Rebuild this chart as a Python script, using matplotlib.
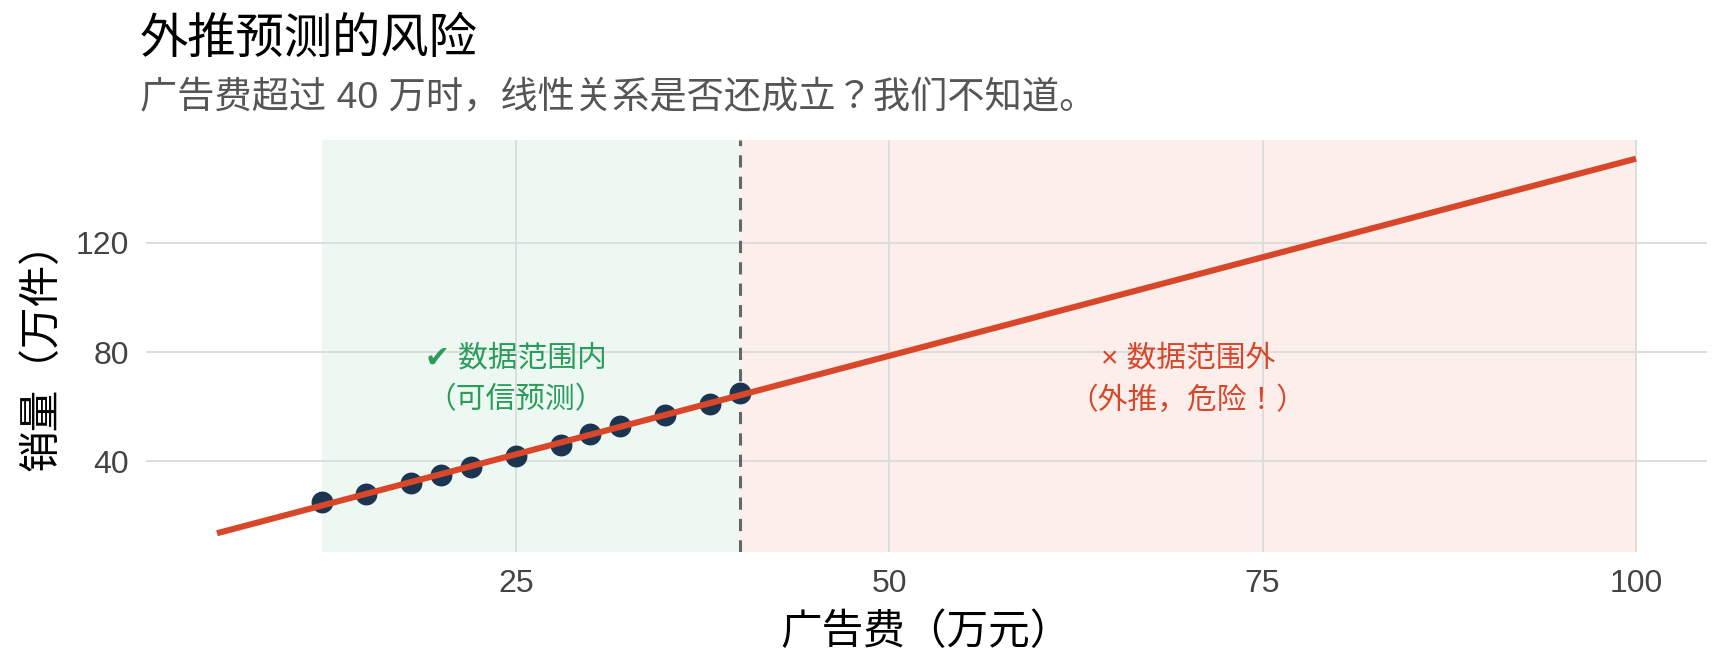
import numpy as np
import matplotlib
matplotlib.use('Agg')
import matplotlib.pyplot as plt

plt.rcParams['font.family'] = ['Liberation Sans', 'Noto Sans CJK JP', 'DejaVu Sans']

# observed data (万元 -> 万件)
ad_spend = [12, 15, 18, 20, 22, 25, 28, 30, 32, 35, 38, 40]
sales = [25, 28, 32, 35, 38, 42, 46, 50, 53, 57, 61, 65]

data_min = 12
data_max = 40
line_from = 5
line_to = 100

x_ticks = [25, 50, 75, 100]
y_ticks = [40, 80, 120]

title = '外推预测的风险'
subtitle = '广告费超过 40 万时，线性关系是否还成立？我们不知道。'
inside_label = '✔ 数据范围内\n（可信预测）'
outside_label = '× 数据范围外\n（外推，危险！）'

green = '#2a9d5c'
red = '#d9472b'
navy = '#1b3550'

slope, intercept = np.polyfit(ad_spend, sales, 1)
line_x = np.array([line_from, line_to])
line_y = intercept + slope * line_x

fig = plt.figure(figsize=(8.64, 3.36), dpi=200)
ax = fig.add_axes([0.0845, 0.1786, 0.9033, 0.6131])

ax.axvspan(data_min, data_max, color='#27ae60', alpha=0.08, lw=0, zorder=0)
ax.axvspan(data_max, line_to, color='#d9472b', alpha=0.09, lw=0, zorder=0)
ax.axvline(data_max, color='#666666', lw=1.1, ls=(0, (4, 3)), zorder=2)

ax.scatter(ad_spend, sales, s=62, color=navy, zorder=3, lw=0)
ax.plot(line_x, line_y, color=red, lw=2.2, zorder=4, solid_capstyle='butt')

ax.text(25, 70, inside_label, color=green, fontsize=10.7, ha='center',
        va='center', linespacing=1.6, zorder=5)
ax.text(70, 70, outside_label, color=red, fontsize=10.7, ha='center',
        va='center', linespacing=1.6, zorder=5)

span = line_y.max() - line_y.min()
ax.set_xlim(line_from - 0.05 * (line_to - line_from), line_to + 0.05 * (line_to - line_from))
ax.set_ylim(line_y.min() - 0.05 * span, line_y.max() + 0.05 * span)
ax.set_xticks(x_ticks)
ax.set_yticks(y_ticks)
ax.grid(True, color='#dddddd', lw=0.7, zorder=1)
ax.set_axisbelow(True)
for s in ax.spines.values():
    s.set_visible(False)
ax.tick_params(length=0, labelsize=11.5, labelcolor='#444444', pad=6)

ax.set_xlabel('广告费（万元）', fontsize=15, color='black', labelpad=5)
ax.set_ylabel('销量（万件）', fontsize=15, color='black', labelpad=5)

fig.text(140 / 1728, 1 - 40 / 672, title, fontsize=17.4, color='black', va='center')
fig.text(140 / 1728, 1 - 99 / 672, subtitle, fontsize=13.4, color='#555555', va='center')

fig.savefig('out.png', dpi=200)
